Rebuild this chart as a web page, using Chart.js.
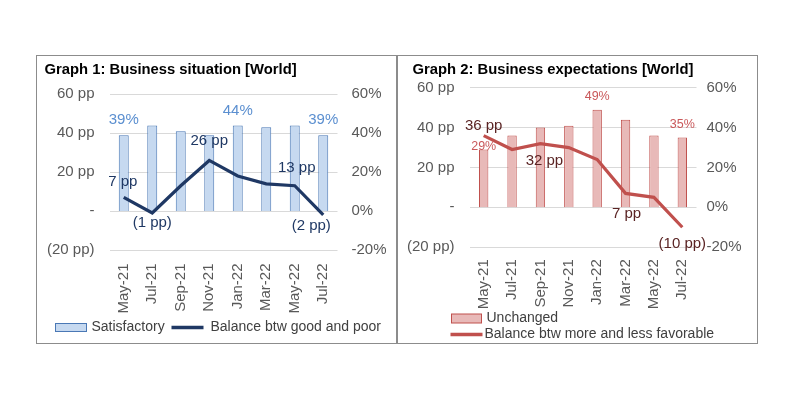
<!DOCTYPE html>
<html>
<head>
<meta charset="utf-8">
<script src="https://cdn.jsdelivr.net/npm/chart.js@4.4.1/dist/chart.umd.min.js"></script>
<style>
  body { margin: 0; background: #fff; width: 800px; height: 400px; position: relative; overflow: hidden; }
  #frame { position: absolute; left: 36px; top: 55px; width: 720px; height: 287px; border: 1.5px solid #8c8c8c; }
  #divider { position: absolute; left: 359px; top: 0; width: 1.5px; height: 287px; background: #8c8c8c; }
  #c1 { position: absolute; left: 0; top: 0; }
  #c2 { position: absolute; left: 361px; top: 0; }
</style>
</head>
<body>
<div id="frame">
  <canvas id="c1" width="359" height="287"></canvas>
  <div id="divider"></div>
  <canvas id="c2" width="359" height="287"></canvas>
</div>
<script>
const months = ["May-21", "Jul-21", "Sep-21", "Nov-21", "Jan-22", "Mar-22", "May-22", "Jul-22"];
const satisfactory = [39, 44, 41, 39, 44, 43, 44, 39];
const balanceGoodPoor = [7, -1, 13, 26, 18, 14, 13, -2];
const unchanged = [29, 36, 40, 41, 49, 44, 36, 35];
const balanceMoreLess = [36, 29, 32, 30, 24, 7, 5, -10];
const tickValues = [-20, 0, 20, 40, 60];
const ppTickLabels = ["(20 pp)", "-", "20 pp", "40 pp", "60 pp"];
const pctTickLabels = ["-20%", "0%", "20%", "40%", "60%"];

Chart.defaults.font.family = "'Liberation Sans', Arial, sans-serif";
Chart.defaults.animation = false;

const fmtPp = v => v < 0 ? `(${-v} pp)` : `${v} pp`;
const fmtPct = v => `${v}%`;

// value labels placed next to chosen bars / points
const valueLabels = {
  id: "valueLabels",
  afterDatasetsDraw(chart, args, opts) {
    const { ctx } = chart;
    (opts.sets || []).forEach(set => {
      const meta = chart.getDatasetMeta(set.dataset);
      const values = chart.data.datasets[set.dataset].data;
      ctx.save();
      ctx.font = set.font;
      ctx.fillStyle = set.color;
      ctx.textAlign = "center";
      ctx.textBaseline = "middle";
      set.spots.forEach(s => {
        const el = meta.data[s.i];
        ctx.fillText(set.format(values[s.i]), el.x + (s.dx || 0), el.y + s.dy);
      });
      ctx.restore();
    });
  }
};

// title starts a little in from the panel edge, axis box keeps full width
const titleInset = {
  id: "titleInset",
  afterLayout(chart, args, opts) {
    if (chart.titleBlock) chart.titleBlock.left = opts.x;
  }
};

// legend drawn at fixed spots under the axis
const panelLegend = {
  id: "panelLegend",
  afterDraw(chart, args, opts) {
    const { ctx } = chart;
    ctx.save();
    ctx.font = opts.font;
    ctx.textBaseline = "middle";
    ctx.textAlign = "left";
    opts.items.forEach(item => {
      const ds = chart.data.datasets[item.dataset];
      if (ds.type === "bar") {
        ctx.fillStyle = ds.backgroundColor;
        ctx.fillRect(item.x, item.y - item.h / 2, item.w, item.h);
        ctx.strokeStyle = ds.borderColor;
        ctx.lineWidth = 1;
        ctx.strokeRect(item.x, item.y - item.h / 2, item.w, item.h);
      } else {
        ctx.strokeStyle = ds.borderColor;
        ctx.lineWidth = 3.5;
        ctx.beginPath();
        ctx.moveTo(item.x, item.y);
        ctx.lineTo(item.x + item.w, item.y);
        ctx.stroke();
      }
      ctx.fillStyle = opts.color;
      ctx.fillText(ds.label, item.textX, item.y);
    });
    ctx.restore();
  }
};

function scalesFor(p) {
  const tickFont = { size: 15 };
  return {
    x: {
      grid: { display: false },
      border: { display: false },
      ticks: { color: "#595959", font: tickFont, maxRotation: 90, minRotation: 90, autoSkip: false, padding: p.xPad },
      afterFit: s => { s.height = p.xHeight; }
    },
    y: {
      position: "left",
      min: -20, max: 60,
      afterBuildTicks: s => { s.ticks = tickValues.map(v => ({ value: v })); },
      grid: { color: "#d9d9d9", lineWidth: 1, drawTicks: false },
      border: { display: false },
      ticks: { color: "#595959", font: tickFont, padding: 15, callback: v => ppTickLabels[tickValues.indexOf(v)] },
      afterFit: s => { s.width = p.leftW; }
    },
    y1: {
      position: "right",
      min: -20, max: 60,
      afterBuildTicks: s => { s.ticks = tickValues.map(v => ({ value: v })); },
      grid: { display: false, drawTicks: false },
      border: { display: false },
      ticks: { color: "#595959", font: tickFont, padding: p.rightPad, callback: v => pctTickLabels[tickValues.indexOf(v)] },
      afterFit: s => { s.width = p.rightW; }
    }
  };
}

new Chart(document.getElementById("c1"), {
  type: "bar",
  data: {
    labels: months,
    datasets: [
      {
        type: "bar", label: "Satisfactory", data: satisfactory, yAxisID: "y1", order: 1,
        backgroundColor: "#c6d9f0", borderColor: "#4a78b5", borderWidth: 1,
        barPercentage: 0.35, categoryPercentage: 1
      },
      {
        type: "line", label: "Balance btw good and poor", data: balanceGoodPoor, yAxisID: "y", order: 0,
        borderColor: "#1f3864", borderWidth: 3.2, pointRadius: 0, tension: 0
      }
    ]
  },
  options: {
    responsive: false,
    layout: { padding: 0 },
    scales: scalesFor({ xPad: 5.5, xHeight: 93, leftW: 72.5, rightW: 58.5, rightPad: 14 }),
    plugins: {
      title: {
        display: true, text: "Graph 1: Business situation [World]", align: "start",
        color: "#000", font: { size: 14.8, weight: "bold" }, padding: { top: 5, bottom: 15.5 }
      },
      titleInset: { x: 7.5 },
      legend: { display: false },
      tooltip: { enabled: false },
      valueLabels: {
        sets: [
          { dataset: 0, font: "15px 'Liberation Sans', Arial", color: "#5b8fd0", format: fmtPct,
            spots: [{ i: 0, dy: -15 }, { i: 4, dy: -15 }, { i: 7, dy: -15 }] },
          { dataset: 1, font: "15px 'Liberation Sans', Arial", color: "#1f3864", format: fmtPp,
            spots: [{ i: 0, dx: -1, dy: -16 }, { i: 1, dy: 10 }, { i: 3, dy: -20 }, { i: 6, dx: 2, dy: -18 }, { i: 7, dx: -12, dy: 11 }] }
        ]
      },
      panelLegend: {
        font: "14px 'Liberation Sans', Arial", color: "#404040",
        items: [
          { dataset: 0, x: 18.5, y: 271.5, w: 31, h: 8, textX: 54.5 },
          { dataset: 1, x: 134.5, y: 271.5, w: 32, textX: 173.5 }
        ]
      }
    }
  },
  plugins: [titleInset, valueLabels, panelLegend]
});

new Chart(document.getElementById("c2"), {
  type: "bar",
  data: {
    labels: months,
    datasets: [
      {
        type: "bar", label: "Unchanged", data: unchanged, yAxisID: "y1", order: 1,
        backgroundColor: "#e8b9b8", borderColor: "#c0504d", borderWidth: 1,
        barPercentage: 0.33, categoryPercentage: 1
      },
      {
        type: "line", label: "Balance btw more and less favorable", data: balanceMoreLess, yAxisID: "y", order: 0,
        borderColor: "#c0504d", borderWidth: 3.2, pointRadius: 0, tension: 0
      }
    ]
  },
  options: {
    responsive: false,
    layout: { padding: 0 },
    scales: scalesFor({ xPad: 4, xHeight: 95.8, leftW: 71.5, rightW: 60.5, rightPad: 10 }),
    plugins: {
      title: {
        display: true, text: "Graph 2: Business expectations [World]", align: "start",
        color: "#000", font: { size: 14.8, weight: "bold" }, padding: { top: 5, bottom: 9 }
      },
      titleInset: { x: 14.5 },
      legend: { display: false },
      tooltip: { enabled: false },
      valueLabels: {
        sets: [
          { dataset: 0, font: "12.5px 'Liberation Sans', Arial", color: "#c9585a", format: fmtPct,
            spots: [{ i: 0, dy: -3 }, { i: 4, dy: -13 }, { i: 7, dy: -13 }] },
          { dataset: 1, font: "15px 'Liberation Sans', Arial", color: "#5a2424", format: fmtPp,
            spots: [{ i: 0, dy: -10 }, { i: 2, dx: 4, dy: 17 }, { i: 5, dx: 1, dy: 20 }, { i: 7, dy: 17 }] }
        ]
      },
      panelLegend: {
        font: "14px 'Liberation Sans', Arial", color: "#404040",
        items: [
          { dataset: 0, x: 53.5, y: 262.5, w: 30, h: 9, textX: 88.5 },
          { dataset: 1, x: 52.5, y: 278.5, w: 32, textX: 86.5 }
        ]
      }
    }
  },
  plugins: [titleInset, valueLabels, panelLegend]
});
</script>
</body>
</html>
